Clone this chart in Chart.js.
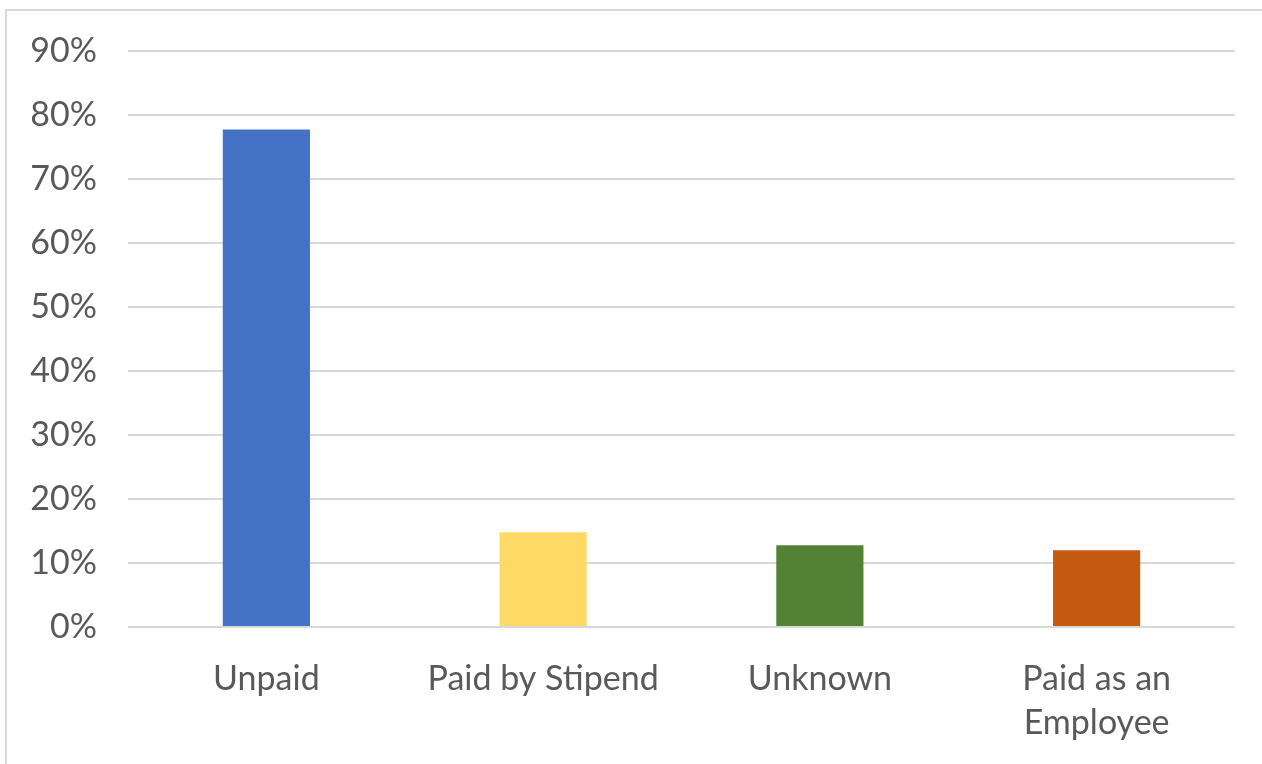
<!DOCTYPE html>
<html>
<head>
<meta charset="utf-8">
<script src="https://cdn.jsdelivr.net/npm/chart.js@4/dist/chart.umd.min.js"></script>
<style>
    html, body { margin: 0; padding: 0; background: #fff; overflow: hidden; }
    #wrap { position: relative; width: 1262px; height: 764px; }
    #frame {
        position: absolute; left: 5px; top: 9px; width: 1400px; height: 900px;
        border: 2px solid #d9d9d9; box-sizing: border-box;
    }
    canvas { position: absolute; left: 0; top: 0; }
</style>
</head>
<body>
<div id="wrap">
    <div id="frame"></div>
    <canvas id="payChart" width="1262" height="764"></canvas>
</div>
<script>
// chart data
const categories = ["Unpaid", "Paid by Stipend", "Unknown", ["Paid as an", "Employee"]];
const shares = [77.8, 14.8, 12.8, 12.0];
const barColors = ["#4472c4", "#ffd966", "#548235", "#c55a11"];
const yTicks = [0, 10, 20, 30, 40, 50, 60, 70, 80, 90];

const textColor = "#595959";
const fontFamily = "Lato, 'Open Sans', sans-serif";

const ctx = document.getElementById('payChart').getContext('2d');

new Chart(ctx, {
    type: 'bar',
    data: {
        labels: categories,
        datasets: [{
            data: shares,
            backgroundColor: barColors,
            borderWidth: 0,
            categoryPercentage: 1,
            barPercentage: 0.315
        }]
    },
    options: {
        responsive: false,
        animation: false,
        layout: {
            padding: { top: 50, right: 27, left: 0, bottom: 0 }
        },
        plugins: {
            legend: { display: false },
            tooltip: { enabled: false }
        },
        scales: {
            x: {
                grid: { display: false },
                border: { display: false },
                ticks: {
                    color: textColor,
                    font: { family: fontFamily, size: 34, lineHeight: 1.3 },
                    padding: 22,
                    maxRotation: 0
                },
                afterFit: (scale) => { scale.height = 764 - 627; }
            },
            y: {
                min: yTicks[0],
                max: yTicks[yTicks.length - 1],
                afterBuildTicks: (scale) => {
                    scale.ticks = yTicks.map(v => ({ value: v }));
                },
                grid: { color: "#d9d9d9", lineWidth: 2, drawTicks: false },
                border: { display: false },
                ticks: {
                    color: textColor,
                    font: { family: fontFamily, size: 34 },
                    padding: 31,
                    callback: (v) => v + '%'
                },
                afterFit: (scale) => { scale.width = 128; }
            }
        }
    }
});
</script>
</body>
</html>
